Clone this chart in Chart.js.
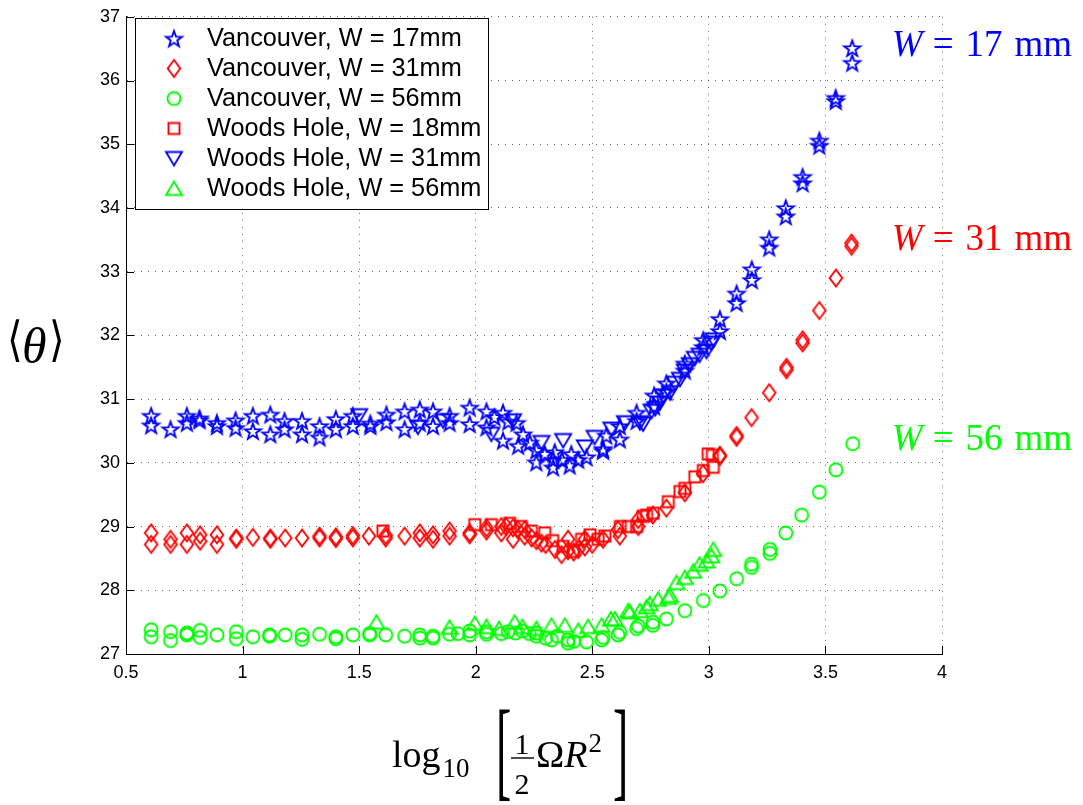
<!DOCTYPE html>
<html>
<head>
    <meta charset="utf-8" />
    <title>mean theta vs log10(1/2 Omega R^2)</title>
    <style>
        body { margin: 0; background: #fff; }
        #wrap { width: 1083px; height: 805px; }
    </style>
</head>
<body>
    <div id="wrap"><canvas id="thetaChart"></canvas></div>

    <script src="https://cdn.jsdelivr.net/npm/chart.js"></script>
    <script>
        // [x, <theta>] pairs
        const van17 = [[0.608,30.74],[0.608,30.59],[0.691,30.53],[0.761,30.74],[0.761,30.63],[0.815,30.70],[0.815,30.67],
            [0.89,30.63],[0.89,30.58],[0.97,30.67],[0.97,30.55],[1.044,30.74],[1.044,30.50],[1.119,30.76],[1.119,30.45],
            [1.18,30.66],[1.18,30.53],[1.255,30.66],[1.255,30.45],[1.33,30.58],[1.33,30.40],[1.40,30.69],[1.40,30.53],
            [1.473,30.74],[1.473,30.58],[1.548,30.62],[1.548,30.58],[1.617,30.76],[1.617,30.64],[1.695,30.81],[1.695,30.53],
            [1.76,30.84],[1.76,30.63],[1.817,30.81],[1.817,30.58],[1.888,30.74],[1.888,30.63],[1.974,30.87],[1.974,30.61],
            [2.046,30.81],[2.046,30.56],[2.08,30.72],[2.117,30.79],[2.117,30.35],[2.14,30.65],[2.175,30.63],[2.182,30.27],
            [2.203,30.45],[2.232,30.32],[2.26,30.01],[2.26,30.20],[2.296,30.14],[2.332,29.93],[2.332,30.05],[2.339,30.17],
            [2.37,30.05],[2.403,29.96],[2.41,30.14],[2.44,30.05],[2.475,30.09],[2.546,30.22],[2.546,30.19],[2.56,30.43],
            [2.618,30.37],[2.618,30.58],[2.69,30.79],[2.69,30.66],[2.765,31.06],[2.765,30.89],[2.818,31.25],[2.818,31.12],
            [2.897,31.56],[2.897,31.45],[2.976,31.93],[2.976,31.82],[3.047,32.26],[3.047,32.07],[3.119,32.66],[3.119,32.51],
            [3.184,33.04],[3.184,32.87],[3.259,33.51],[3.259,33.38],[3.33,34.00],[3.33,33.87],[3.402,34.49],[3.402,34.39],
            [3.474,35.06],[3.474,34.98],[3.544,35.73],[3.544,35.68],[3.615,36.51],[3.615,36.28]];

        const van31 = [[0.608,28.90],[0.608,28.72],[0.691,28.80],[0.691,28.72],[0.761,28.90],[0.761,28.72],[0.818,28.87],
            [0.818,28.77],[0.89,28.87],[0.89,28.72],[0.973,28.82],[0.973,28.80],[1.044,28.83],[1.119,28.82],[1.119,28.80],
            [1.183,28.82],[1.255,28.82],[1.33,28.85],[1.33,28.82],[1.40,28.84],[1.40,28.81],[1.473,28.86],[1.473,28.82],
            [1.542,28.85],[1.614,28.86],[1.614,28.82],[1.695,28.85],[1.76,28.90],[1.76,28.82],[1.817,28.87],[1.817,28.80],
            [1.888,28.93],[1.888,28.85],[1.974,28.90],[1.974,28.87],[2.046,28.98],[2.046,28.93],[2.11,28.90],[2.11,29.00],
            [2.13,29.00],[2.16,28.80],[2.16,28.98],[2.18,28.95],[2.21,28.95],[2.21,28.85],[2.24,28.82],[2.26,28.78],
            [2.282,28.74],[2.30,28.72],[2.34,28.64],[2.368,28.56],[2.396,28.80],[2.396,28.62],[2.42,28.60],[2.44,28.64],
            [2.468,28.80],[2.468,28.68],[2.50,28.72],[2.546,28.80],[2.61,28.95],[2.618,28.85],[2.697,29.00],[2.697,29.11],
            [2.76,29.18],[2.818,29.29],[2.897,29.53],[2.975,29.83],[3.047,30.12],[3.047,30.10],[3.119,30.43],[3.119,30.40],
            [3.183,30.71],[3.259,31.10],[3.333,31.50],[3.333,31.46],[3.402,31.93],[3.402,31.88],[3.474,32.39],[3.545,32.90],
            [3.612,33.45],[3.612,33.40]];

        const van56 = [[0.608,27.38],[0.608,27.27],[0.691,27.35],[0.691,27.21],[0.761,27.33],[0.761,27.30],[0.818,27.37],
            [0.818,27.26],[0.89,27.30],[0.973,27.35],[0.973,27.24],[1.044,27.27],[1.116,27.30],[1.116,27.28],[1.183,27.30],
            [1.255,27.30],[1.255,27.23],[1.33,27.31],[1.40,27.27],[1.40,27.24],[1.473,27.30],[1.545,27.32],[1.545,27.30],
            [1.614,27.30],[1.695,27.28],[1.76,27.30],[1.76,27.25],[1.817,27.28],[1.817,27.25],[1.888,27.31],[1.924,27.32],
            [1.974,27.30],[1.974,27.36],[2.046,27.35],[2.046,27.31],[2.11,27.32],[2.139,27.35],[2.17,27.33],[2.20,27.36],
            [2.23,27.32],[2.26,27.33],[2.26,27.28],[2.30,27.25],[2.325,27.22],[2.35,27.28],[2.396,27.17],[2.396,27.22],
            [2.42,27.20],[2.475,27.19],[2.54,27.22],[2.546,27.26],[2.61,27.30],[2.618,27.34],[2.69,27.40],[2.697,27.44],
            [2.76,27.45],[2.76,27.50],[2.818,27.55],[2.897,27.68],[2.976,27.84],[3.047,27.99],[3.119,28.18],[3.183,28.41],
            [3.183,28.36],[3.262,28.64],[3.262,28.58],[3.33,28.90],[3.398,29.18],[3.474,29.54],[3.545,29.89],[3.617,30.30]];

        const wh18 = [[1.602,28.93],[1.996,29.03],[2.067,29.03],[2.146,29.05],[2.196,29.00],[2.239,28.93],[2.296,28.90],
            [2.33,28.78],[2.375,28.69],[2.418,28.61],[2.454,28.80],[2.49,28.87],[2.525,28.80],[2.554,28.85],[2.62,29.00],
            [2.654,29.00],[2.69,29.00],[2.718,29.16],[2.733,29.18],[2.761,29.21],[2.826,29.39],[2.876,29.55],[2.897,29.60],
            [2.94,29.78],[2.976,29.88],[2.997,30.14],[3.015,30.12],[3.019,29.93]];

        const wh31 = [[1.50,30.74],[1.752,30.56],[1.86,30.66],[2.067,30.45],[2.16,30.66],[2.282,30.32],[2.375,30.35],
            [2.468,30.25],[2.51,30.40],[2.582,30.53],[2.64,30.63],[2.704,30.63],[2.718,30.61],[2.754,30.81],[2.77,30.85],
            [2.79,30.94],[2.804,31.05],[2.833,31.10],[2.854,31.25],[2.876,31.31],[2.897,31.44],[2.918,31.54],[2.94,31.64],
            [2.96,31.69],[2.99,31.75],[3.011,31.88],[3.02,31.93]];

        const wh56 = [[1.574,27.50],[1.888,27.42],[1.996,27.48],[2.046,27.43],[2.10,27.40],[2.167,27.50],[2.20,27.43],
            [2.26,27.40],[2.325,27.45],[2.382,27.45],[2.44,27.37],[2.482,27.43],[2.54,27.45],[2.58,27.55],[2.597,27.55],
            [2.654,27.68],[2.661,27.66],[2.704,27.68],[2.733,27.74],[2.747,27.79],[2.782,27.86],[2.826,27.89],[2.833,27.92],
            [2.861,28.12],[2.897,28.20],[2.933,28.30],[2.96,28.41],[2.99,28.46],[3.011,28.54],[3.019,28.64]];

        const seriesLabels = ['Vancouver, W = 17mm', 'Vancouver, W = 31mm', 'Vancouver, W = 56mm',
            'Woods Hole, W = 18mm', 'Woods Hole, W = 31mm', 'Woods Hole, W = 56mm'];
        const seriesData = [van17, van31, van56, wh18, wh31, wh56];
        const seriesColors = ['#0000ff', '#ff0000', '#00ff00', '#ff0000', '#0000ff', '#00ff00'];
        const seriesShapes = ['star', 'diamond', 'circle', 'square', 'tridown', 'triup'];

        const xTicks = { min: 0.5, max: 4, step: 0.5 };
        const yTicks = { min: 27, max: 37, step: 1 };

        // matlab-ish open markers drawn on small canvases
        function makeMarker(shape, color) {
            const c = document.createElement('canvas');
            c.width = 22; c.height = 22;
            const g = c.getContext('2d');
            const m = 11;
            g.strokeStyle = color;
            g.lineWidth = 1.9;
            g.beginPath();
            if (shape === 'star') {
                for (let i = 0; i < 10; i++) {
                    const r = i % 2 ? 3.4 : 8.4;
                    const a = -Math.PI / 2 + i * Math.PI / 5;
                    g.lineTo(m + r * Math.cos(a), m + 0.9 + r * Math.sin(a));
                }
                g.closePath();
            } else if (shape === 'diamond') {
                g.moveTo(m, m - 8.5); g.lineTo(m + 6.3, m); g.lineTo(m, m + 8.5); g.lineTo(m - 6.3, m); g.closePath();
            } else if (shape === 'circle') {
                g.arc(m, m, 6.5, 0, Math.PI * 2);
            } else if (shape === 'square') {
                g.rect(m - 5.5, m - 5.5, 11, 11);
            } else if (shape === 'tridown') {
                g.moveTo(m - 8, m - 6.5); g.lineTo(m + 8, m - 6.5); g.lineTo(m, m + 7); g.closePath();
            } else {
                g.moveTo(m - 8, m + 6.5); g.lineTo(m + 8, m + 6.5); g.lineTo(m, m - 7); g.closePath();
            }
            g.stroke();
            return c;
        }

        const markers = seriesShapes.map((s, i) => makeMarker(s, seriesColors[i]));

        const decorations = {
            id: 'decorations',
            afterDraw(chart) {
                const { ctx, scales: { x, y }, chartArea: a } = chart;
                ctx.save();

                // inward ticks
                ctx.strokeStyle = '#000';
                ctx.lineWidth = 1;
                ctx.beginPath();
                x.ticks.forEach((t) => {
                    const px = Math.round(x.getPixelForValue(t.value)) + 0.5;
                    ctx.moveTo(px, a.bottom); ctx.lineTo(px, a.bottom - 8);
                });
                y.ticks.forEach((t) => {
                    const py = Math.round(y.getPixelForValue(t.value)) + 0.5;
                    ctx.moveTo(a.left, py); ctx.lineTo(a.left + 8, py);
                });
                ctx.stroke();

                // legend
                const lx = 135.5, ly = 18.5, lw = 353, lh = 191;
                ctx.fillStyle = '#fff';
                ctx.fillRect(lx, ly, lw, lh);
                ctx.strokeRect(lx, ly, lw, lh);
                ctx.font = '25.3px "Liberation Sans", Arial, sans-serif';
                ctx.textBaseline = 'middle';
                ctx.textAlign = 'left';
                ctx.fillStyle = '#000';
                chart.data.datasets.forEach((ds, i) => {
                    const ry = ly + 20 + i * 30;
                    const img = ds.pointStyle;
                    ctx.drawImage(img, 174 - img.width / 2, ry - img.height / 2);
                    ctx.fillText(ds.label, 207, ry + 1);
                });

                // W labels
                const wLabels = [['17', 36.53, '#0000ff'], ['31', 33.5, '#ff0000'], ['56', 30.35, '#00ff00']];
                ctx.textBaseline = 'middle';
                wLabels.forEach(([w, val, col]) => {
                    let px = x.getPixelForValue(3.785);
                    const py = y.getPixelForValue(val);
                    ctx.fillStyle = col;
                    ctx.font = 'italic 37px "Liberation Serif", serif';
                    ctx.fillText('W', px, py);
                    px += ctx.measureText('W').width + 10;
                    ctx.font = '37px "Liberation Serif", serif';
                    ctx.fillText('=', px, py);
                    px += ctx.measureText('=').width + 12;
                    ctx.fillText(w, px, py);
                    px += ctx.measureText(w).width + 12;
                    ctx.fillText('mm', px, py);
                });

                // y axis label <theta>
                ctx.fillStyle = '#000';
                ctx.textBaseline = 'alphabetic';
                ctx.font = '40px "DejaVu Serif", "DejaVu Sans", serif';
                ctx.save(); ctx.translate(7, 356); ctx.scale(1, 1.2); ctx.fillText('\u27E8', 0, 0); ctx.restore();
                ctx.save(); ctx.translate(49, 356); ctx.scale(1, 1.2); ctx.fillText('\u27E9', 0, 0); ctx.restore();
                ctx.font = 'italic 50px "Liberation Serif", serif';
                ctx.fillText('\u03B8', 22, 363);

                // x axis label log10 [ 1/2 Omega R^2 ]
                let bx = 392;
                ctx.font = '38px "Liberation Serif", serif';
                ctx.fillText('log', bx, 767);
                bx += ctx.measureText('log').width + 2;
                ctx.font = '27px "Liberation Serif", serif';
                ctx.fillText('10', bx, 777);

                ctx.font = '46px "Liberation Serif", serif';
                ctx.save(); ctx.translate(496, 786); ctx.scale(1, 2.4); ctx.fillText('[', 0, 0); ctx.restore();
                ctx.save(); ctx.translate(613, 786); ctx.scale(1, 2.4); ctx.fillText(']', 0, 0); ctx.restore();

                ctx.textAlign = 'center';
                ctx.font = '30px "Liberation Serif", serif';
                ctx.fillText('1', 522, 754);
                ctx.fillText('2', 522, 794);
                ctx.lineWidth = 1.4;
                ctx.beginPath(); ctx.moveTo(511, 758); ctx.lineTo(534, 758); ctx.stroke();

                ctx.textAlign = 'left';
                bx = 536;
                ctx.font = '38px "Liberation Serif", serif';
                ctx.fillText('\u03A9', bx, 767);
                bx += ctx.measureText('\u03A9').width;
                ctx.font = 'italic 38px "Liberation Serif", serif';
                ctx.fillText('R', bx, 767);
                bx += ctx.measureText('R').width + 1;
                ctx.font = '27px "Liberation Serif", serif';
                ctx.fillText('2', bx, 752);

                ctx.restore();
            }
        };

        function drawChart() {
            const ctx = document.getElementById('thetaChart');
            const datasets = seriesData.map((pts, i) => ({
                label: seriesLabels[i],
                data: pts.map((p) => ({ x: p[0], y: p[1] })),
                pointStyle: markers[i],
                pointRadius: 6,
                showLine: false
            }));

            new Chart(ctx, {
                type: 'scatter',
                data: { datasets: datasets },
                options: {
                    responsive: true,
                    maintainAspectRatio: false,
                    animation: false,
                    layout: { padding: { left: 0, top: 10, right: 141, bottom: 0 } },
                    plugins: { legend: { display: false }, tooltip: { enabled: false } },
                    scales: {
                        x: {
                            min: xTicks.min, max: xTicks.max,
                            afterFit: (s) => { s.height = 151; },
                            ticks: {
                                stepSize: xTicks.step, autoSkip: false, maxRotation: 0, padding: 8,
                                callback: (v) => String(v),
                                color: '#000', font: { family: '"Liberation Sans", Arial', size: 18 }
                            },
                            grid: { color: 'rgba(0,0,0,0.6)', drawTicks: false },
                            border: { display: true, color: '#000', width: 1, dash: [1, 6] }
                        },
                        y: {
                            min: yTicks.min, max: yTicks.max,
                            afterFit: (s) => { s.width = 126; },
                            ticks: {
                                stepSize: yTicks.step, autoSkip: false, padding: 6,
                                callback: (v) => String(v),
                                color: '#000', font: { family: '"Liberation Sans", Arial', size: 18 }
                            },
                            grid: { color: 'rgba(0,0,0,0.6)', drawTicks: false },
                            border: { display: true, color: '#000', width: 1, dash: [1, 6] }
                        }
                    }
                },
                plugins: [decorations]
            });
        }

        drawChart();
    </script>
</body>
</html>
